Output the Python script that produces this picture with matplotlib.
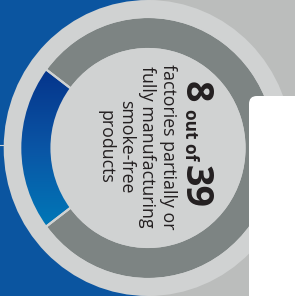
import matplotlib
matplotlib.use('Agg')
import matplotlib.pyplot as plt
from matplotlib.patches import Rectangle, FancyBboxPatch, Circle, Wedge
from matplotlib.colors import LinearSegmentedColormap
import numpy as np

# ---- data ----
categories = ['smoke-free factories', 'other factories']
values = [8, 31]
big_number = '8'
connector = 'out of'
total_label = '39'
body_lines = ['factories partially or', 'fully manufacturing', 'smoke-free', 'products']

# ---- style ----
BLUE_BG = '#0b55a0'
GRAY_BG = '#bbbdbc'
LIGHT = '#d0d2d2'
DARK_GRAY = '#7d8483'
TEXT = '#231f20'
FONT = 'Open Sans'

W, H = 295, 296
CX, CY = 148, 148
SX = 0.975  # horizontal squash

def dx(px):
    return (px - CX) / SX

def dy(py):
    return CY - py

fig = plt.figure(figsize=(W / 100, H / 100), dpi=100)
ax = fig.add_axes([0, 0, 1, 1])
ax.axis('off')

# backgrounds
ax.add_patch(Rectangle((dx(-5), dy(300)), dx(CX) - dx(-5), 320, facecolor=BLUE_BG, edgecolor='none', zorder=0))
ax.add_patch(Rectangle((dx(CX), dy(300)), dx(300) - dx(CX), 320, facecolor=GRAY_BG, edgecolor='none', zorder=0))
ax.add_patch(Circle((0, 0), 148, facecolor=LIGHT, edgecolor='none', zorder=1))
ax.plot([dx(0), dx(5)], [dy(145), dy(145)], color=LIGHT, lw=0.8, zorder=1)

# donut
total = sum(values)
start = 180 - values[0] / total * 180
wedges, _ = ax.pie(values, colors=['#0a55a5', DARK_GRAY], radius=131, startangle=start,
                   counterclock=True, center=(0, 0),
                   wedgeprops=dict(width=32, edgecolor=LIGHT, linewidth=1.5))
for w in wedges:
    w.set_zorder(2)

cmap = LinearSegmentedColormap.from_list('bl', ['#0079b8', '#0a55a5', '#05338a'])
grad = np.linspace(0, 1, 256).reshape(-1, 1)
im = ax.imshow(grad, cmap=cmap, origin='lower', extent=(-135, -80, -82, 82), aspect='auto', zorder=2.5)
im.set_clip_path(wedges[0])
# redraw separators on top
for w in wedges:
    ax.add_patch(Wedge(w.center, w.r, w.theta1, w.theta2, width=w.width,
                       facecolor='none', edgecolor=LIGHT, linewidth=1.5, zorder=3))

# texts
kw = dict(rotation=-90, rotation_mode='anchor', va='baseline', color=TEXT, family=FONT, zorder=5)
ax.text(dx(185), dy(81), big_number, ha='left', fontsize=27, fontweight='bold', **kw)
ax.text(dx(185), dy(109), connector, ha='left', fontsize=12.5, fontweight='bold', **kw)
ax.text(dx(185), dy(165), total_label, ha='left', fontsize=27, fontweight='bold', **kw)
baselines = [163, 142, 121, 100]
for line, b in zip(body_lines, baselines):
    ax.text(dx(b), dy(147), line, ha='center', fontsize=12.8, **kw)

# white panel
ax.add_patch(FancyBboxPatch((dx(249), dy(400)), 200, dy(96) - dy(400),
                            boxstyle='round,pad=0,rounding_size=8',
                            facecolor='white', edgecolor='none', zorder=6))

ax.set_aspect('auto')
ax.set_xlim(dx(0), dx(W))
ax.set_ylim(dy(H), dy(0))
fig.savefig('out.png', dpi=100)
